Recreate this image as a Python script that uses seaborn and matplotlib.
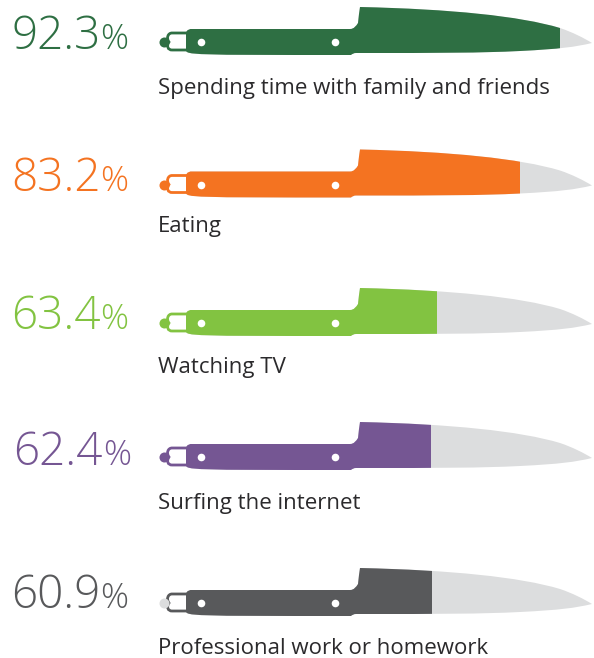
import numpy as np
import matplotlib
matplotlib.use("Agg")
import matplotlib.pyplot as plt
from matplotlib.path import Path
from matplotlib.patches import PathPatch
import seaborn as sns

sns.set_theme(style="white")

W, H = 594, 658
categories = ["Spending time with family and friends", "Eating", "Watching TV",
              "Surfing the internet", "Professional work or homework"]
shown_values = ["92.3", "83.2", "63.4", "62.4", "60.9"]
# filled length of each knife (0-100 blade scale)
fill_lengths = [92.3, 83.0, 63.5, 62.1, 62.3]
knife_total = [100, 100, 100, 100, 100]
colors = ["#2e6f43", "#f47321", "#82c341", "#755693", "#58595b"]
pommel_colors = ["#2e6f43", "#f47321", "#82c341", "#755693", "#dcddde"]
blade_gray = "#dcddde"
text_color = "#2b2a2c"

row_centers = [42, 184.5, 323, 457, 603]
label_baselines = [94, 232, 373, 509, 654]
number_baselines = [49, 191, 329, 465, 608]
number_x = [11, 11, 11, 13, 11]
percent_x = [100, 100, 100, 103, 100]

X0, PX = 167.0, 4.256
AX_H = 84.0

def dx(px):
    return (np.asarray(px, float) - X0) / PX

def dy(py):
    return np.asarray(py, float) / AX_H

def knife_path():
    M, L, C = Path.MOVETO, Path.LINETO, Path.CURVE4
    pts = [(186, -8), (186, -13), (191, -13), (191, -13),
           (350, -13), (354, -13), (356, -16), (358, -19),
           (359, -28), (360, -35),
           (450, -33), (520, -26), (560, -14),
           (572, -10), (584, -4), (592, 1),
           (575, 5), (560, 7), (520, 9),
           (480, 11), (440, 11), (356, 11),
           (354, 11), (352, 12), (351, 13),
           (191, 13), (186, 13), (186, 8),
           (186, -8)]
    codes = [M, C, C, C, L, C, C, C, L, L, C, C, C, C, C, C, C, C, C, C, C, C, C, C, L, C, C, C, L]
    return Path(np.column_stack([dx([p[0] for p in pts]), dy([p[1] for p in pts])]), codes)

def hook_path():
    M, L, C = Path.MOVETO, Path.LINETO, Path.CURVE4
    pts = [(188, -9), (172, -9), (168, -9), (166, -4), (169, 0), (166, 4), (168, 8), (172, 8), (188, 8)]
    codes = [M, L, C, C, C, C, C, C, L]
    return Path(np.column_stack([dx([p[0] for p in pts]), dy([p[1] for p in pts])]), codes)

fig = plt.figure(figsize=(W / 100, H / 100), dpi=100, facecolor="white")
num_font = dict(family="Open Sans", fontweight="light")
lab_font = dict(family="Open Sans", fontweight="normal")

for i, cat in enumerate(categories):
    top = row_centers[i] - AX_H / 2
    ax = fig.add_axes([0, 1 - (top + AX_H) / H, 1, AX_H / H])
    sns.barplot(x=[knife_total[i]], y=[cat], color=blade_gray, saturation=1, width=1,
                orient="h", ax=ax, linewidth=0)
    sns.barplot(x=[fill_lengths[i]], y=[cat], color=colors[i], saturation=1, width=1,
                orient="h", ax=ax, linewidth=0)
    ax.set_xlim(dx(0), dx(W))
    ax.set_ylim(0.5, -0.5)
    ax.axis("off")
    ax.patch.set_alpha(0)
    kp = knife_path()
    for b in ax.patches:
        b.set_clip_path(kp, ax.transData)
    ax.add_patch(PathPatch(hook_path(), fc="none", ec=colors[i], lw=2, zorder=2))
    ax.scatter(dx([164]), [0], s=52, color=pommel_colors[i], linewidths=0, zorder=3)
    ax.scatter(dx([201, 335]), [0, 0], s=30, color="white", linewidths=0, zorder=4)

    fig.text(number_x[i] / W, 1 - number_baselines[i] / H, shown_values[i], color=colors[i],
             fontsize=33, va="baseline", ha="left", **num_font)
    fig.text(percent_x[i] / W, 1 - number_baselines[i] / H, "%", color=colors[i],
             fontsize=25, va="baseline", ha="left", **num_font)
    fig.text(158 / W, 1 - label_baselines[i] / H, cat, color=text_color,
             fontsize=16, va="baseline", ha="left", **lab_font)

fig.savefig("out.png", dpi=100)
